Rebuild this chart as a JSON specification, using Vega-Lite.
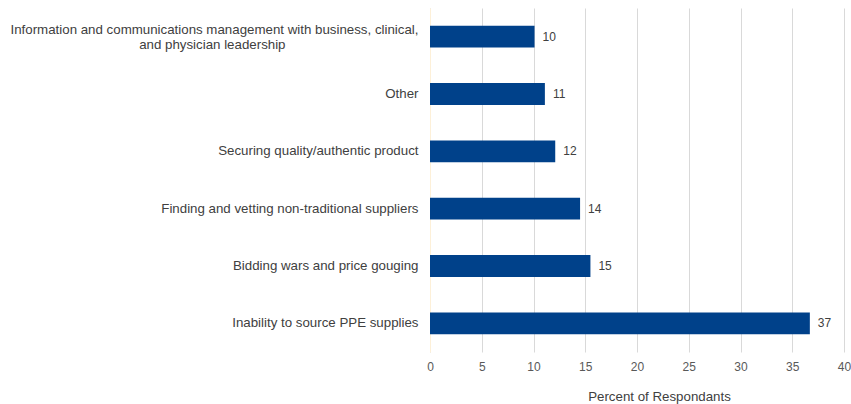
{
  "$schema": "https://vega.github.io/schema/vega-lite/v6.json",
  "width": 414,
  "height": 344,
  "autosize": {"type": "none"},
  "padding": {"left": 430, "top": 8, "right": 7, "bottom": 52},
  "background": "white",
  "config": {
    "view": {"stroke": null},
    "font": "Arial, Liberation Sans, sans-serif"
  },
  "data": {
    "values": [
      {"category": "Information and communications management with business, clinical,|and physician leadership\u2003\u2003\u2003\u2003\u2003\u2003\u2003\u2003\u2003\u2003\u200b", "value": 10.1, "label": "10", "order": 1},
      {"category": "Other", "value": 11.1, "label": "11", "order": 2},
      {"category": "Securing quality/authentic product", "value": 12.1, "label": "12", "order": 3},
      {"category": "Finding and vetting non-traditional suppliers", "value": 14.5, "label": "14", "order": 4},
      {"category": "Bidding wars and price gouging", "value": 15.5, "label": "15", "order": 5},
      {"category": "Inability to source PPE supplies", "value": 36.7, "label": "37", "order": 6}
    ]
  },
  "encoding": {
    "y": {
      "field": "category",
      "type": "nominal",
      "sort": {"field": "order", "order": "ascending"},
      "scale": {"paddingInner": 0.62, "paddingOuter": 0.31},
      "axis": {
        "title": null,
        "ticks": false,
        "domain": true,
        "domainColor": "#fdf0d8",
        "labelFont": "Arial, Liberation Sans, sans-serif",
        "labelFontSize": 13.3,
        "labelColor": "#404040",
        "labelPadding": 12,
        "labelLimit": 500,
        "labelLineHeight": 15,
        "labelOffset": {"condition": {"test": "indexof(datum.value, '|') >= 0", "value": -7}, "value": 0},
        "labelExpr": "split(datum.value, '|')"
      }
    },
    "x": {
      "field": "value",
      "type": "quantitative",
      "scale": {"domain": [0, 40], "nice": false},
      "axis": {
        "values": [0, 5, 10, 15, 20, 25, 30, 35, 40],
        "title": "Percent of Respondants",
        "titleFont": "Arial, Liberation Sans, sans-serif",
        "titleFontSize": 13.3,
        "titleFontWeight": "normal",
        "titleColor": "#404040",
        "titlePadding": 17,
        "titleX": 229,
        "titleAlign": "center",
        "labelFont": "Arial, Liberation Sans, sans-serif",
        "labelFontSize": 12,
        "labelColor": "#595959",
        "labelPadding": 9,
        "labelFlush": false,
        "ticks": false,
        "domain": false,
        "grid": true,
        "gridColor": "#d9d9d9",
        "gridWidth": 1
      }
    }
  },
  "layer": [
    {"mark": {"type": "bar", "color": "#00418a"}},
    {
      "mark": {"type": "text", "align": "left", "baseline": "middle", "dx": 8, "fontSize": 12, "color": "#404040", "font": "Arial, Liberation Sans, sans-serif"},
      "encoding": {"text": {"field": "label"}}
    }
  ]
}
